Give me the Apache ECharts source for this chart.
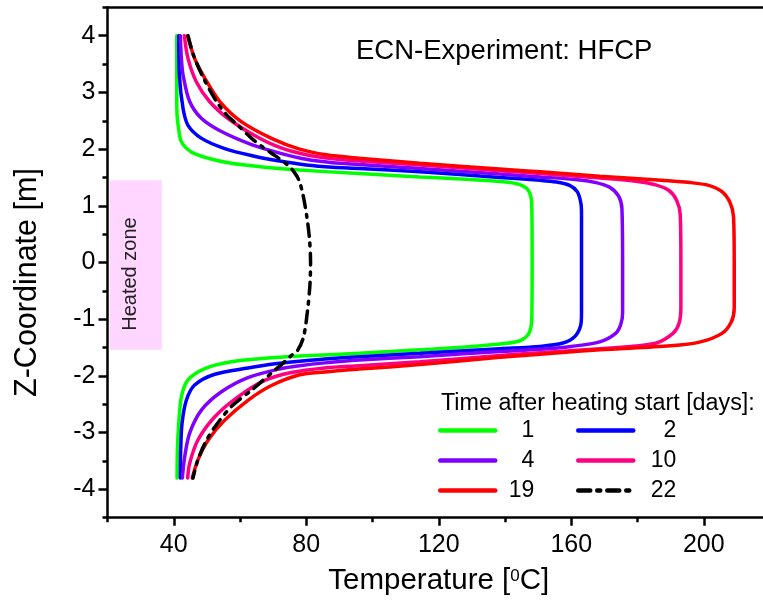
<!DOCTYPE html>
<html><head><meta charset="utf-8">
<script src="https://cdn.jsdelivr.net/npm/echarts@6/dist/echarts.min.js"></script>
<style>html,body{margin:0;padding:0;background:#fff}#c{width:763px;height:610px}</style>
</head><body><div id="c"></div>
<script>
// ---- data: [Temperature (°C), Z-coordinate (m)] from top to bottom ----
const days = ['1', '2', '4', '10', '19', '22'];

const day1 = [[40.9,4.0],[40.9,3.0],[41.0,2.6],[41.5,2.35],[42.3,2.13],[45.3,1.95],[50.4,1.84],[57.4,1.75],[67.5,1.68],[78,1.63],[96,1.57],[114.3,1.51],[128,1.47],[138.4,1.43],[143.5,1.39],[146.5,1.31],[147.8,1.16],[148.1,0.95],[148.2,0],[148.1,-0.95],[147.8,-1.15],[146.9,-1.28],[144.5,-1.38],[140,-1.43],[128,-1.49],[114.3,-1.54],[96,-1.60],[78,-1.65],[67.5,-1.69],[57.4,-1.75],[49.4,-1.87],[44.3,-2.07],[42.3,-2.37],[41.5,-2.84],[41.1,-3.3],[41.0,-3.8]];

const day2 = [[41.5,4.0],[41.7,3.3],[42.8,2.72],[44.3,2.42],[48.4,2.19],[55.4,2.01],[64,1.88],[72,1.79],[80,1.72],[88,1.68],[96,1.66],[114.3,1.60],[138.4,1.50],[150.6,1.45],[155.5,1.42],[159.5,1.36],[161.8,1.25],[162.9,1.05],[163.1,0.85],[163.1,0],[163.1,-0.9],[162.8,-1.12],[161,-1.31],[157.5,-1.42],[150.6,-1.48],[138.4,-1.52],[114.3,-1.60],[96,-1.66],[85.6,-1.70],[78,-1.74],[70,-1.79],[62.4,-1.86],[52.4,-1.97],[46.3,-2.16],[43.8,-2.43],[42.5,-2.84],[42.1,-3.3],[42.0,-3.8]];

const day4 = [[42.0,4.0],[42.3,3.6],[42.8,3.31],[44.8,2.84],[48.4,2.54],[54.4,2.31],[63.5,2.08],[72,1.93],[80,1.82],[88,1.76],[96,1.73],[114.3,1.66],[138.4,1.56],[150.6,1.51],[162,1.46],[167.5,1.41],[171.5,1.33],[174.3,1.17],[175.3,0.95],[175.5,0],[175.5,-0.9],[174.9,-1.1],[173.4,-1.25],[168.6,-1.40],[160,-1.48],[150.6,-1.53],[138.4,-1.57],[114.3,-1.66],[96,-1.72],[85.6,-1.77],[78,-1.82],[72.5,-1.87],[62.4,-2.03],[54.4,-2.28],[48.4,-2.60],[44.8,-3.01],[43.3,-3.43],[42.6,-3.8]];

const day10 = [[43.2,4.0],[44.3,3.6],[46.8,3.19],[50.8,2.84],[56.4,2.54],[64.4,2.24],[72,2.03],[80,1.90],[88,1.83],[96,1.79],[114.3,1.72],[138.4,1.62],[150.6,1.57],[168.6,1.49],[180,1.43],[185.5,1.37],[189.5,1.27],[191.8,1.1],[192.9,0.85],[193.1,0],[193.1,-0.8],[192.5,-1.08],[190.7,-1.25],[185.7,-1.42],[178,-1.48],[168.6,-1.52],[150.6,-1.59],[138.4,-1.64],[114.3,-1.75],[96,-1.82],[85.6,-1.86],[75.5,-1.94],[67.5,-2.08],[59.4,-2.37],[52.4,-2.72],[47.3,-3.13],[44.8,-3.54],[44.2,-3.8]];

const day19 = [[44.2,4.0],[46.3,3.6],[49.4,3.25],[53.9,2.84],[60.5,2.48],[69.5,2.19],[78,2.0],[86,1.90],[96,1.84],[114.3,1.75],[138.4,1.65],[150.6,1.60],[168.6,1.52],[185,1.46],[196,1.41],[201.5,1.36],[205.5,1.25],[208,1.05],[209,0.8],[209.2,0],[209.2,-0.8],[208.3,-1.05],[205.5,-1.25],[199,-1.40],[190,-1.47],[168.6,-1.54],[150.6,-1.62],[138.4,-1.67],[114.3,-1.80],[96,-1.88],[85.6,-1.93],[78,-1.98],[69.5,-2.17],[62.4,-2.43],[55.4,-2.78],[50.4,-3.13],[47.3,-3.48],[45.6,-3.8]];

const day22 = [[44.3,4.0],[46,3.65],[49,3.25],[52.9,2.84],[56,2.6],[59.4,2.42],[63.5,2.19],[67,2.03],[70.7,1.88],[74,1.74],[76.3,1.60],[77.8,1.45],[79,1.2],[80.2,0.8],[81,0.4],[81.3,0],[81.1,-0.4],[80.4,-0.84],[79.2,-1.31],[77.4,-1.55],[75.5,-1.64],[72.5,-1.8],[69.5,-1.95],[63.5,-2.25],[57.4,-2.54],[52.4,-2.90],[49.4,-3.19],[47.3,-3.48],[45.8,-3.8]];

const xMajorTicks = [40, 80, 120, 160, 200];
const xMinorTicks = [20, 60, 100, 140, 180, 220];
const yMajorTicks = [-4, -3, -2, -1, 0, 1, 2, 3, 4];
const yMinorTicks = [-4.5, -3.5, -2.5, -1.5, -0.5, 0.5, 1.5, 2.5, 3.5, 4.5];
const heatedZoneT = [20.7, 36.4];
const heatedZoneZ = [1.45, -1.54];

// ---- styling ----
const FONT = '"Liberation Sans", Arial, sans-serif';
const seriesData = [day1, day2, day4, day10, day19, day22];
const colors = ['#00ff00', '#0000ff', '#8000ff', '#ff0080', '#ff0000', '#000000'];

const chart = echarts.init(document.getElementById('c'), null, {renderer: 'canvas'});

const series = days.map((d, i) => {
  const s = {
    name: d, type: 'line', data: seriesData[i], xAxisIndex: 0, yAxisIndex: 0,
    symbol: 'none', showSymbol: false, smooth: 0.3, animation: false,
    lineStyle: {color: colors[i], width: 3.5, type: i === 5 ? [12, 7, 3, 7] : 'solid', cap: 'round'},
    itemStyle: {color: colors[i]}, z: 3 + i
  };
  if (i === 0) {
    s.markArea = {
      silent: true,
      itemStyle: {color: '#ffd6ff'},
      label: {show: true, position: 'inside', rotate: 90, offset: [-9, -5], fontSize: 20, fontFamily: FONT, color: '#222'},
      data: [[{name: 'Heated zone', xAxis: heatedZoneT[0], yAxis: heatedZoneZ[0]}, {xAxis: heatedZoneT[1], yAxis: heatedZoneZ[1]}]]
    };
  }
  return s;
});

const axisLineStyle = {color: '#000', width: 2.5};

const option = {
  animation: false,
  backgroundColor: '#fff',
  grid: {left: 107.5, top: 7.4, width: 662.5, height: 510.25, containLabel: false, outerBoundsMode: 'none'},
  title: [
    {text: 'ECN-Experiment: HFCP', left: 356, top: 36, padding: 0,
     textStyle: {fontSize: 27.5, fontWeight: 'normal', fontFamily: FONT, color: '#000', lineHeight: 30}},
    {text: 'Time after heating start [days]:', left: 441, top: 390, padding: 0,
     textStyle: {fontSize: 23.3, fontWeight: 'normal', fontFamily: FONT, color: '#000', lineHeight: 28}}
  ],
  legend: days.map((d, i) => ({
    data: [d], left: i % 2 ? 576 : 438, top: 419 + Math.floor(i / 2) * 30,
    itemWidth: 55, itemHeight: 14, padding: 0, selectedMode: false,
    lineStyle: {width: 4.5},
    itemStyle: {opacity: 0},
    formatter: n => '{r|' + n + '}',
    textStyle: {fontSize: 23, fontFamily: FONT, color: '#000',
      rich: {r: {width: i % 2 ? 38 : 34, align: 'right', fontSize: 23, fontFamily: FONT, color: '#000', lineHeight: 28}}}
  })),
  xAxis: [
    {type: 'value', min: 20, max: 220, position: 'bottom',
     axisLine: {show: true, onZero: false, lineStyle: axisLineStyle},
     axisTick: {show: true, inside: false, customValues: xMajorTicks, length: 8, lineStyle: axisLineStyle},
     axisLabel: {customValues: xMajorTicks, fontSize: 25, fontFamily: FONT, color: '#000', margin: 15},
     splitLine: {show: false},
     name: 'Temperature [{s|0}C]', nameLocation: 'middle', nameGap: 47,
     nameTextStyle: {fontSize: 29.5, fontFamily: FONT, color: '#000', lineHeight: 32,
       rich: {s: {fontSize: 17, fontFamily: FONT, color: '#000', verticalAlign: 'top', lineHeight: 17, padding: [3, 0, 0, 0]}}}},
    {type: 'value', min: 20, max: 220, position: 'bottom',
     axisLine: {show: false, onZero: false},
     axisTick: {show: true, inside: false, customValues: xMinorTicks, length: 4.5, lineStyle: axisLineStyle},
     axisLabel: {show: false}, splitLine: {show: false}},
    {type: 'value', min: 20, max: 220, position: 'top',
     axisLine: {show: true, onZero: false, lineStyle: axisLineStyle},
     axisTick: {show: false}, axisLabel: {show: false}, splitLine: {show: false}}
  ],
  yAxis: [
    {type: 'value', min: -4.5, max: 4.5, position: 'left',
     axisLine: {show: true, onZero: false, lineStyle: axisLineStyle},
     axisTick: {show: true, inside: false, customValues: yMajorTicks, length: 9, lineStyle: axisLineStyle},
     axisLabel: {customValues: yMajorTicks, fontSize: 25, fontFamily: FONT, color: '#000', margin: 12},
     splitLine: {show: false},
     name: 'Z-Coordinate [m]', nameLocation: 'middle', nameGap: 64,
     nameTextStyle: {fontSize: 30.5, fontFamily: FONT, color: '#000', padding: [0, 40, 0, 0]}},
    {type: 'value', min: -4.5, max: 4.5, position: 'left',
     axisLine: {show: false, onZero: false},
     axisTick: {show: true, inside: false, customValues: yMinorTicks, length: 5, lineStyle: axisLineStyle},
     axisLabel: {show: false}, splitLine: {show: false}}
  ],
  series: series
};

chart.setOption(option);
</script>
</body></html>
